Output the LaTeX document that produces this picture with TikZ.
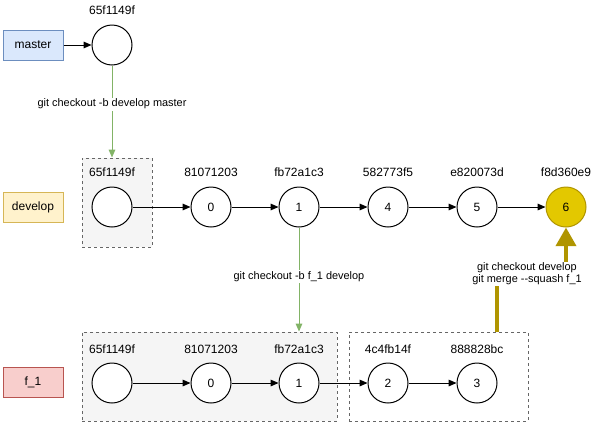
\documentclass[tikz,border=0pt]{standalone}
\usepackage{fontspec}
\setmainfont{Liberation Sans}
\usetikzlibrary{arrows.meta}
\definecolor{bluefill}{HTML}{DAE8FC}\definecolor{bluedraw}{HTML}{6C8EBF}
\definecolor{yelfill}{HTML}{FFF2CC}\definecolor{yeldraw}{HTML}{D6B656}
\definecolor{redfill}{HTML}{F8CECC}\definecolor{reddraw}{HTML}{B85450}
\definecolor{grpfill}{HTML}{F5F5F5}\definecolor{grpdraw}{HTML}{666666}
\definecolor{greenl}{HTML}{82B366}
\definecolor{goldfill}{HTML}{E3C800}\definecolor{golddraw}{HTML}{B09500}
\tikzset{
  every node/.style={font=\fontsize{9}{10.8}\selectfont, inner sep=0pt},
  branch/.style={draw, line width=0.75pt, minimum width=45pt, minimum height=22.5pt},
  commit/.style={circle, draw, line width=0.75pt, minimum size=30pt, fill=white},
  grp/.style={draw=grpdraw, line width=0.75pt, dash pattern=on 2.25pt off 2.25pt},
  link/.style={line width=0.75pt, -{Triangle[length=6pt,width=5pt]}},
  glink/.style={draw=greenl, line width=0.75pt, -{Triangle[length=6pt,width=5pt,fill=greenl]}},
  cmd/.style={fill=white, inner sep=1pt, align=center, font=\fontsize{8.2}{9}\selectfont},
}
\begin{document}
\begin{tikzpicture}[x=0.75pt,y=-0.75pt]
\useasboundingbox (0,0) rectangle (599,429);
% groups
\node[grp, fill=grpfill, minimum width=52.5pt, minimum height=66.75pt] (gdev) at (117,202.5) {};
\node[grp, fill=grpfill, minimum width=191.25pt, minimum height=66.75pt] (gf1a) at (209.5,376.5) {};
\node[grp, fill=white, minimum width=134.25pt, minimum height=66.75pt] (gf1b) at (438.5,376.5) {};
% branches
\node[branch, fill=bluefill, draw=bluedraw] (master) at (33,45) {master};
\node[branch, fill=yelfill, draw=yeldraw] (develop) at (33,207) {develop};
\node[branch, fill=redfill, draw=reddraw] (f1) at (33,382) {f\_1};
% master row
\node[commit] (m0) at (112,45) {};
\node (hm0) at (112,10) {65f1149f};
% develop row
\node[commit] (d0) at (112,207) {};
\node[commit] (d1) at (211,207) {0};
\node[commit] (d2) at (299,207) {1};
\node[commit] (d3) at (388,207) {4};
\node[commit] (d4) at (477,207) {5};
\node[commit, fill=goldfill, draw=golddraw] (d5) at (566,207) {6};
\node (hd0) at (112,172) {65f1149f};
\node (hd1) at (211,172) {81071203};
\node (hd2) at (299,172) {fb72a1c3};
\node (hd3) at (388,172) {582773f5};
\node (hd4) at (477,172) {e820073d};
\node (hd5) at (566,172) {f8d360e9};
% f_1 row
\node[commit] (f0) at (112,383) {};
\node[commit] (f1c) at (211,383) {0};
\node[commit] (f2) at (299,383) {1};
\node[commit] (f3) at (388,383) {2};
\node[commit] (f4) at (477,383) {3};
\node (hf0) at (112,349) {65f1149f};
\node (hf1) at (211,349) {81071203};
\node (hf2) at (299,349) {fb72a1c3};
\node (hf3) at (388,349) {4c4fb14f};
\node (hf4) at (477,349) {888828bc};
% connectors
\draw[link] (master) -- (m0);
\draw[link] (d0) -- (d1);
\draw[link] (d1) -- (d2);
\draw[link] (d2) -- (d3);
\draw[link] (d3) -- (d4);
\draw[link] (d4) -- (d5);
\draw[link] (f0) -- (f1c);
\draw[link] (f1c) -- (f2);
\draw[link] (f2) -- (f3);
\draw[link] (f3) -- (f4);
\draw[glink] (m0) -- (m0 |- gdev.north) node[cmd, pos=0.42] {git checkout -b develop master};
\draw[glink] (d2) -- (d2 |- gf1a.north) node[cmd, pos=0.47] {git checkout -b f\_1 develop};
\coordinate (gs) at (497,332);
\coordinate (gb1) at (497,274);
\coordinate (gb2) at (566,274);
\draw[draw=golddraw, line width=3pt, -{Triangle[length=14pt,width=15pt,fill=golddraw]}] (gs) -- (gb1) -- (gb2) -- (d5);
\node[cmd] (mergelbl) at (527,274) {git checkout develop\\git merge {-}{-}squash f\_1};
\end{tikzpicture}
\end{document}
